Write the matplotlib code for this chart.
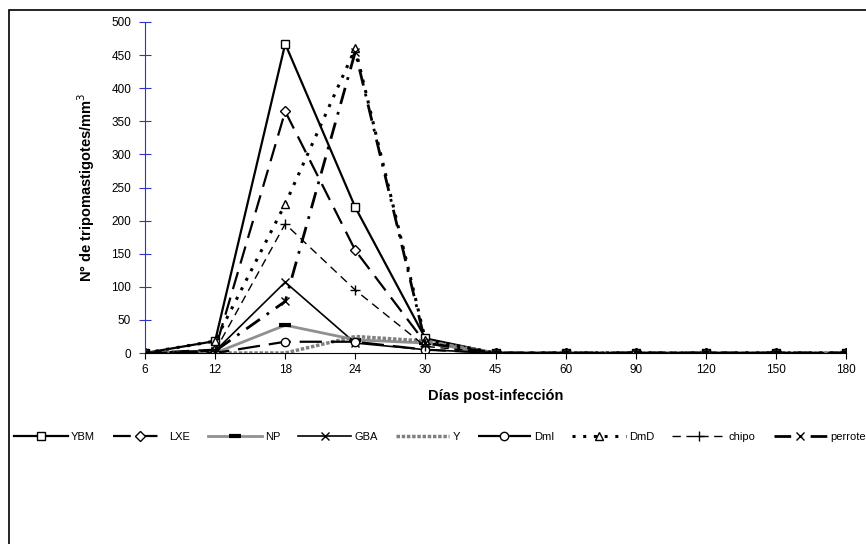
import matplotlib
matplotlib.use('Agg')
import matplotlib.pyplot as plt
from matplotlib.patches import Rectangle

plt.rcParams['font.family'] = ['Liberation Sans', 'DejaVu Sans']

dias = ['6', '12', '18', '24', '30', '45', '60', '90', '120', '150', '180']

ybm = [0, 18, 467, 220, 22, 0, 0, 0, 0, 0, 0]
lxe = [0, 5, 365, 155, 15, 0, 0, 0, 0, 0, 0]
np_ = [0, 0, 42, 20, 15, 0, 0, 0, 0, 0, 0]
gba = [0, 3, 107, 15, 5, 0, 0, 0, 0, 0, 0]
y_ = [0, 0, 0, 25, 18, 0, 0, 0, 0, 0, 0]
dmi = [0, 0, 17, 17, 5, 0, 0, 0, 0, 0, 0]
dmd = [0, 18, 225, 460, 20, 0, 0, 0, 0, 0, 0]
chipo = [0, 3, 195, 95, 10, 0, 0, 0, 0, 0, 0]
perrote = [0, 3, 78, 455, 15, 0, 0, 0, 0, 0, 0]

x = list(range(len(dias)))

fig = plt.figure(figsize=(8.66, 5.44), dpi=100)
ax = fig.add_axes([145/866, 1-353/544, (846-145)/866, (353-22)/544])

# marco exterior
fig.patches.append(Rectangle((9/866, -0.5), 2, 1.5 - 10/544, transform=fig.transFigure,
                             fill=False, edgecolor='black', lw=1.2, zorder=0))

ax.plot(x, ybm, color='black', lw=1.6, marker='s', ms=6, mfc='white', mec='black', label='YBM')
ax.plot(x, lxe, color='black', lw=1.6, ls=(0, (8, 4)), marker='D', ms=5, mfc='white', mec='black', label='LXE')
ax.plot(x, np_, color='#909090', lw=2.0, marker='_', ms=9, mew=3, mec='black', label='NP')
ax.plot(x, gba, color='black', lw=1.2, marker='x', ms=6, mec='black', label='GBA')
ax.plot(x, y_, color='#808080', lw=2.5, ls=(0, (1, 0.5)), label='Y')
ax.plot(x, dmi, color='black', lw=1.6, ls=(0, (10, 4)), marker='o', ms=6, mfc='white', mec='black', label='DmI')
ax.plot(x, dmd, color='black', lw=2.2, ls=(0, (1, 2.5)), marker='^', ms=6, mfc='white', mec='black', label='DmD')
ax.plot(x, chipo, color='black', lw=1.0, ls=(0, (6, 4)), marker='+', ms=7, mec='black', label='chipo')
ax.plot(x, perrote, color='black', lw=2.0, ls=(0, (6, 3, 1, 3)), marker='x', ms=6, mec='black', label='perrote')

ax.set_xlim(0, 10)
ax.set_ylim(0, 500)
ax.set_xticks(x)
ax.set_xticklabels(dias)
ax.set_yticks(range(0, 501, 50))

ax.spines['top'].set_visible(False)
ax.spines['right'].set_visible(False)
ax.spines['left'].set_color('#3333cc')
ax.spines['bottom'].set_color('black')
ax.tick_params(axis='y', direction='inout', length=8, color='#3333cc', labelsize=8.5, pad=6)
ax.tick_params(axis='x', direction='out', length=4, color='black', labelsize=8.5, pad=4)
ax.patch.set_alpha(0)

ax.set_xlabel('Días post-infección', fontsize=10.5, fontweight='bold', labelpad=9)
ax.set_ylabel('N° de tripomastigotes/mm$^{3}$', fontsize=10.5, fontweight='bold', labelpad=10)

fig.legend(loc='center left', bbox_to_anchor=(10/866, 1-437/544), ncol=9, frameon=False,
           fontsize=8, handlelength=4.8, handletextpad=0.3, columnspacing=1.6, borderaxespad=0)

fig.savefig('out.png', dpi=100)
